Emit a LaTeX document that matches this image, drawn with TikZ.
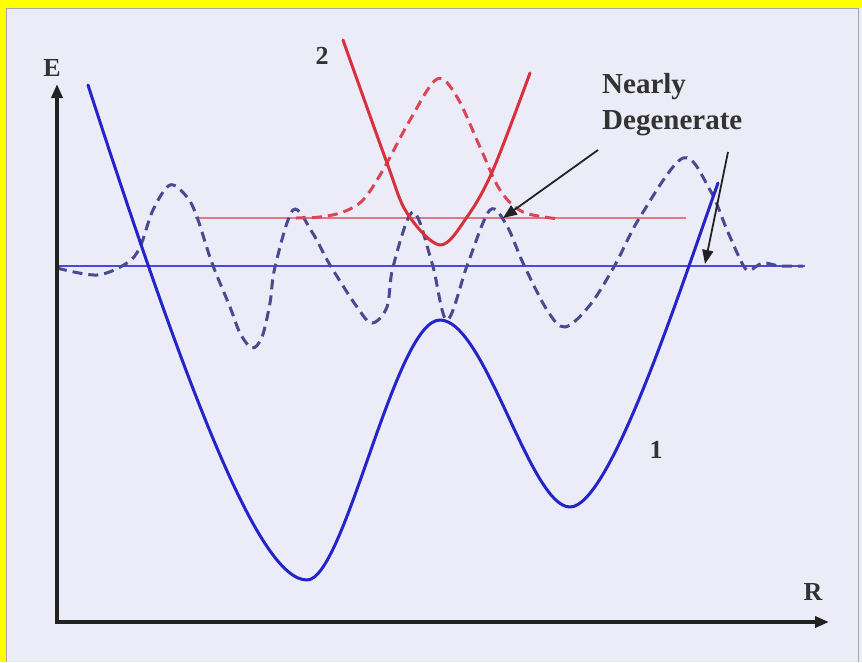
\documentclass[tikz,border=0pt]{standalone}
\usepackage{fontspec}
\setmainfont{Liberation Serif}
\usetikzlibrary{arrows.meta}
\definecolor{bgc}{HTML}{ECECF8}
\definecolor{frameyellow}{HTML}{FFFF00}
\definecolor{potblue}{HTML}{2424C8}
\definecolor{wfblue}{HTML}{4A4A90}
\definecolor{levblue}{HTML}{4848E0}
\definecolor{potred}{HTML}{D8303C}
\definecolor{wfred}{HTML}{D84658}
\definecolor{levred}{HTML}{E07888}
\definecolor{axisc}{HTML}{222222}
\definecolor{txt}{HTML}{333333}
\begin{document}
\begin{tikzpicture}[x=1pt,y=-1pt,
  lab/.style={font=\fontsize{26}{28}\selectfont\bfseries, text=txt, inner sep=0pt},
  annot/.style={font=\fontsize{29}{36}\selectfont\bfseries, text=txt, inner sep=0pt, anchor=base west},
  axisline/.style={draw=axisc, line width=3.5pt, -{Triangle[length=14pt,width=11pt]}},
  potential/.style={line width=3pt, line join=round, line cap=round},
  wavefn/.style={line width=3pt, dash pattern=on 10pt off 6pt},
  pointer/.style={draw=axisc, line width=1.8pt, -{Triangle[length=14pt,width=11pt]}}]
\useasboundingbox (0,0) rectangle (862,662);
% background and frame
\fill[bgc] (0,0) rectangle (862,662);
\fill[frameyellow] (0,0) rectangle (862,8);
\fill[frameyellow] (0,0) rectangle (6,662);
\draw[gray!70, line width=1pt] (6.5,662) -- (6.5,8.5) -- (858,8.5) -- (858,662);
% levels
\draw[levblue, line width=2pt] (57,266) -- (805,266);
\draw[levred, line width=2.2pt] (195,218) -- (686,218);
% wavefunction of state 1
\draw[wfblue, wavefn] plot[smooth, tension=0.55] coordinates {
 (57,268) (97,275) (127,263) (140,247) (153,210) (170,185) (187,197) (197,217)
 (212,263) (230,307) (240,333) (252,348) (262,337) (270,303) (275,267) (293,210)
 (312,232) (330,265) (357,307) (372,323) (387,307)
 (393,267) (413,212) (432,263) (447,320) (468,263) (490,210) (507,226) (523,263)
 (547,310) (565,327) (590,305) (615,265) (640,217) (683,158) (710,190) (727,230)
 (743,265) (750,270) (763,263) (780,266) (803,266)};
% wavefunction of state 2
\draw[wfred, wavefn] plot[smooth, tension=0.55] coordinates {
 (296,218) (320,217) (343,212) (363,200) (383,170) (410,120) (437,79) (457,97)
 (480,147) (500,190) (523,212) (560,219)};
% potential 1
\draw[potblue, potential] (88,85) .. controls (190,400) and (260,580) .. (307,580)
  .. controls (345,580) and (395,320) .. (440,320)
  .. controls (485,320) and (530,507) .. (570,507)
  .. controls (610,507) and (680,290) .. (718,183);
% potential 2
\draw[potred, potential] plot[smooth, tension=0.55] coordinates {
 (343,40) (387,163) (407,213) (440,245) (467,217) (493,170) (530,73)};
% axes
\coordinate (origin) at (57,622);
\coordinate (etip) at (57,84);
\coordinate (rtip) at (829,622);
\draw[axisline] (origin) -- (etip);
\draw[axisline] ([xshift=-1.75pt]origin) -- (rtip);
\node[lab] (elab) at (52,68) {E};
\node[lab] (rlab) at (813,592) {R};
\node[lab] (lab2) at (322,56) {2};
\node[lab] (lab1) at (656,450) {1};
% annotation
\node[annot] (nearly) at (602,93) {Nearly};
\node[annot] (degen) at (602,129) {Degenerate};
\coordinate (a1s) at (598,150);
\coordinate (a1e) at (503,218);
\coordinate (a2s) at (728,152);
\coordinate (a2e) at (705,264);
\draw[pointer] (a1s) -- (a1e);
\draw[pointer] (a2s) -- (a2e);
\end{tikzpicture}
\end{document}
